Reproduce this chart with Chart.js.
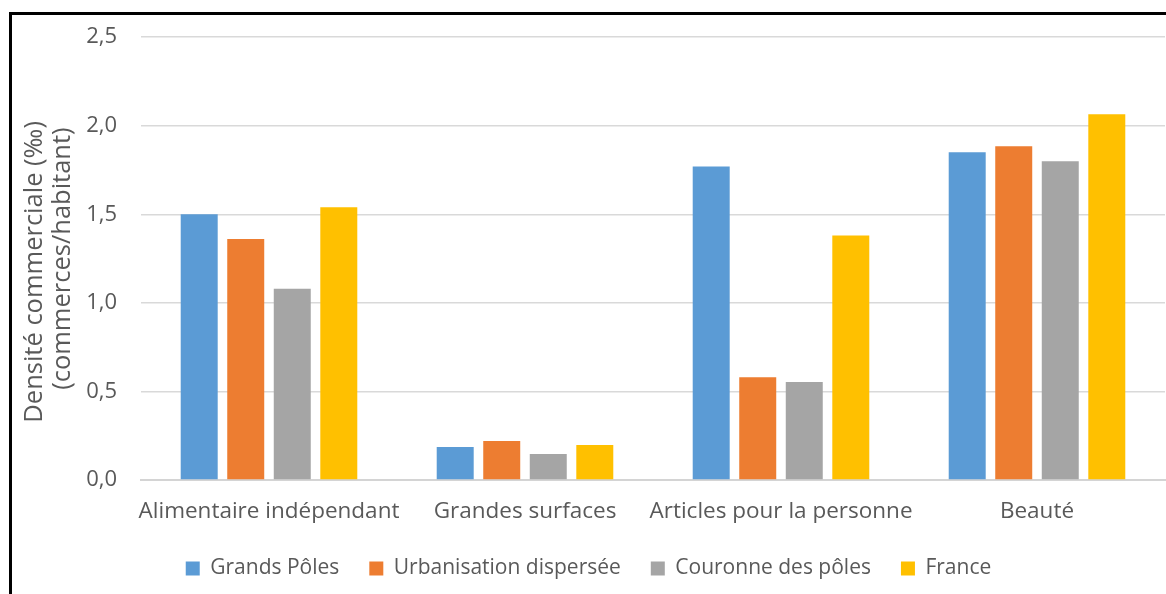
<!DOCTYPE html>
<html>
<head>
<meta charset="utf-8">
<script src="https://cdn.jsdelivr.net/npm/chart.js@4.4.1/dist/chart.umd.min.js"></script>
<style>
  html, body { margin: 0; padding: 0; background: #fff; overflow: hidden; }
  .cadre { position: absolute; left: 9px; top: 12px; width: 1200px; height: 700px;
           border-left: 3px solid #000; border-top: 3px solid #000; }
  .wrap { position: absolute; left: 0; top: 0; width: 1166px; height: 594px; }
</style>
</head>
<body>
<div class="cadre"></div>
<div class="wrap"><canvas id="graphique"></canvas></div>
<script>
// categories et series
const categories = ['Alimentaire indépendant', 'Grandes surfaces', 'Articles pour la personne', 'Beauté'];
const grandsPoles = [1.50, 0.186, 1.77, 1.85];
const urbanisation = [1.36, 0.22, 0.58, 1.885];
const couronne = [1.08, 0.147, 0.553, 1.80];
const france = [1.54, 0.197, 1.38, 2.065];
const ticksY = [0, 0.5, 1.0, 1.5, 2.0, 2.5];

const police = "'Open Sans', sans-serif";
const gris = '#595959';

const ctx = document.getElementById('graphique');
new Chart(ctx, {
    type: 'bar',
    data: {
        labels: categories,
        datasets: [
            { label: 'Grands Pôles', data: grandsPoles, backgroundColor: '#5B9BD5' },
            { label: 'Urbanisation dispersée', data: urbanisation, backgroundColor: '#ED7D31' },
            { label: 'Couronne des pôles', data: couronne, backgroundColor: '#A5A5A5' },
            { label: 'France', data: france, backgroundColor: '#FFC000' }
        ]
    },
    options: {
        responsive: true,
        maintainAspectRatio: false,
        animation: false,
        datasets: {
            bar: { categoryPercentage: 0.727, barPercentage: 0.795 }
        },
        layout: { padding: { left: 12, right: 1, top: 37, bottom: 5 } },
        scales: {
            x: {
                grid: { display: false, drawTicks: false },
                border: { display: true, color: '#d4d4d4', width: 2 },
                ticks: { color: gris, font: { family: police, size: 22.5 }, padding: 18, maxRotation: 0, autoSkip: false },
                afterFit: (s) => { s.height = 48; }
            },
            y: {
                min: 0,
                max: 2.5,
                afterBuildTicks: (s) => { s.ticks = ticksY.map(v => ({ value: v })); },
                grid: { color: '#d9d9d9', lineWidth: 1.5, drawTicks: false },
                border: { display: false },
                ticks: {
                    color: gris, font: { family: police, size: 22 }, padding: 24,
                    callback: (v) => v.toFixed(1).replace('.', ',')
                },
                title: {
                    display: true,
                    // espaces en fin de ligne pour descendre un peu le titre comme dans l'original
                    text: ['Densité commerciale (‰)    ', '(commerces/habitant)'],
                    color: gris,
                    font: { family: police, size: 25.5, lineHeight: 1.1 },
                    padding: { top: 9, bottom: 0 }
                },
                afterFit: (s) => { s.width = 129; }
            }
        },
        plugins: {
            legend: {
                position: 'bottom',
                labels: {
                    color: gris,
                    font: { family: police, size: 21 },
                    boxWidth: 14,
                    boxHeight: 14,
                    padding: 30
                }
            },
            tooltip: { enabled: false }
        }
    }
});
</script>
</body>
</html>
